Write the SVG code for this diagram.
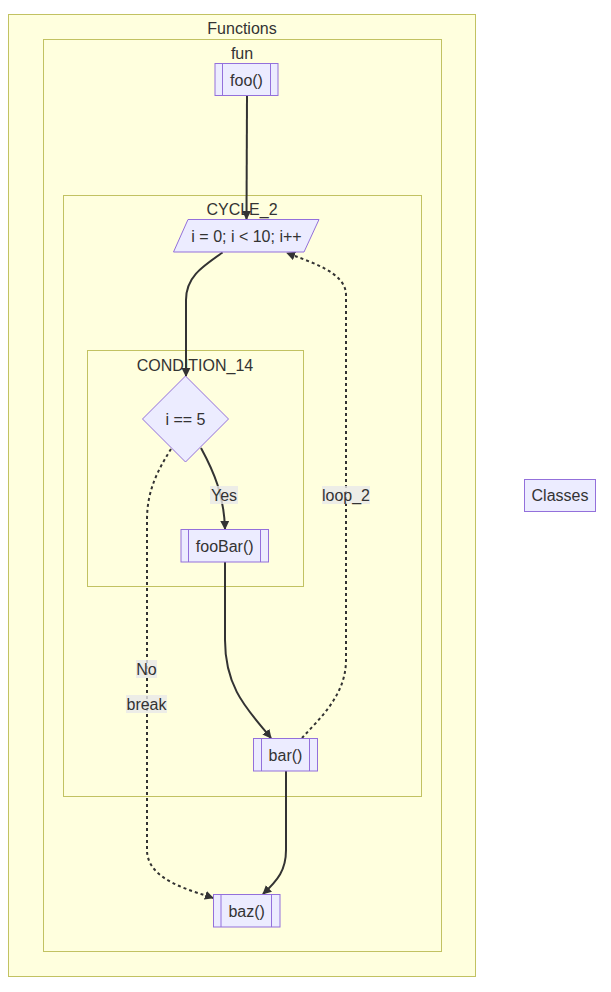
<svg xmlns="http://www.w3.org/2000/svg" width="611" height="992" viewBox="0 0 611 992">
<defs>
<marker id="arr" viewBox="0 0 10 10" refX="9" refY="5" markerWidth="9" markerHeight="9" markerUnits="userSpaceOnUse" orient="auto">
<path d="M0,0 L10,5 L0,10 z" fill="#333"/>
</marker>
<style>
text{font-family:"Liberation Sans",Arial,sans-serif;font-size:16px;fill:#333;text-anchor:middle;dominant-baseline:central}
.cl{fill:#ffffde;stroke:#c2c262;stroke-width:1}
.nd{fill:#ECECFF;stroke:#9370DB;stroke-width:1}
.e{fill:none;stroke:#333;stroke-width:2}
.d{stroke-dasharray:3 3}
.lb{fill:#e8e8e8;opacity:0.8}
</style>
</defs>
<rect width="611" height="992" fill="#fff"/>
<g id="Functions"><rect class="cl" x="8.5" y="14.5" width="467" height="962"/><text x="242" y="28">Functions</text></g>
<g id="fun"><rect class="cl" x="43.5" y="39.5" width="398" height="912"/><text x="242" y="53">fun</text></g>
<g id="CYCLE_2"><rect class="cl" x="63.5" y="195.5" width="358" height="601"/><text x="242" y="209">CYCLE_2</text></g>
<g id="CONDITION_14"><rect class="cl" x="87.5" y="350.5" width="216" height="236"/><text x="195" y="365">CONDITION_14</text></g>
<g id="edges">
<path class="e" d="M247,96 L246.5,219" marker-end="url(#arr)"/>
<path class="e" d="M222.6,252.5 C200,268 186,278 186,300 L186,376" marker-end="url(#arr)"/>
<path class="e" d="M201,448 C214,472 224,495 225,529" marker-end="url(#arr)"/>
<path class="e d" d="M171,449 C158,470 147,490 147,520 L147,850 C147,880 190,890 213,898" marker-end="url(#arr)"/>
<path class="e" d="M225,562 L225,640 C225,690 250,712 271,738" marker-end="url(#arr)"/>
<path class="e d" d="M302,738 C320,718 346,695 346,660 L346,295 C346,272 310,262 287,253" marker-end="url(#arr)"/>
<path class="e" d="M286,771 L286,850 C286,870 278,880 263,894" marker-end="url(#arr)"/>
<rect class="lb" x="210" y="486" width="28" height="18"/><text x="224" y="495">Yes</text>
<rect class="lb" x="136" y="660" width="21" height="18"/><text x="146.5" y="669">No</text>
<rect class="lb" x="126" y="695" width="41" height="18"/><text x="146.5" y="704">break</text>
<rect class="lb" x="322" y="486" width="48" height="18"/><text x="346" y="495">loop_2</text>
</g>
<g id="foo"><rect class="nd" x="215" y="63.5" width="63" height="32"/><line class="nd" x1="222.5" y1="63.5" x2="222.5" y2="95.5"/><line class="nd" x1="270.5" y1="63.5" x2="270.5" y2="95.5"/><text x="246.5" y="80">foo()</text></g>
<g id="for"><polygon class="nd" points="188,219.5 319,219.5 304,252 173.5,252"/><text x="246.5" y="236">i = 0; i &lt; 10; i++</text></g>
<g id="if"><polygon class="nd" points="185.5,376 228.5,419 185.5,462 142.5,419"/><text x="185.5" y="419">i == 5</text></g>
<g id="fooBar"><rect class="nd" x="181" y="529.5" width="87.5" height="32.5"/><line class="nd" x1="188.5" y1="529.5" x2="188.5" y2="562"/><line class="nd" x1="260.5" y1="529.5" x2="260.5" y2="562"/><text x="224.7" y="546">fooBar()</text></g>
<g id="bar"><rect class="nd" x="253.5" y="738.5" width="64" height="32.5"/><line class="nd" x1="261.5" y1="738.5" x2="261.5" y2="771"/><line class="nd" x1="309.5" y1="738.5" x2="309.5" y2="771"/><text x="285.5" y="755">bar()</text></g>
<g id="baz"><rect class="nd" x="213.5" y="894.5" width="66.5" height="32.5"/><line class="nd" x1="221" y1="894.5" x2="221" y2="927"/><line class="nd" x1="271.5" y1="894.5" x2="271.5" y2="927"/><text x="246.7" y="911">baz()</text></g>
<g id="Classes"><rect class="nd" x="524.5" y="479.5" width="71" height="32"/><text x="560" y="495">Classes</text></g>
</svg>
